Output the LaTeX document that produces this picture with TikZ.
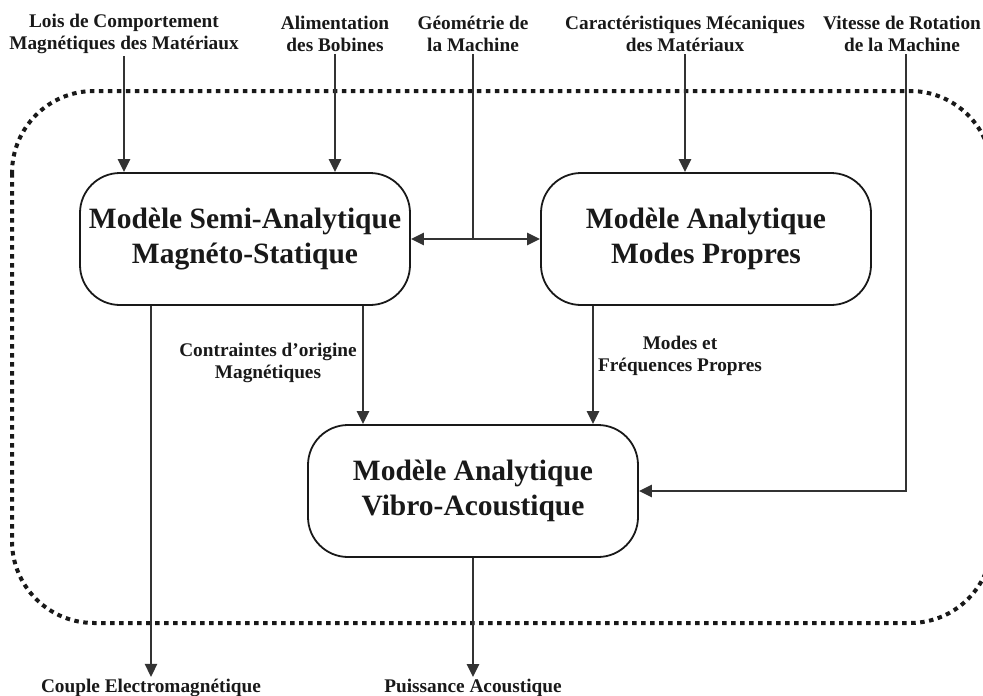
\documentclass[tikz,border=0pt]{standalone}
\usepackage{fontspec}
\setmainfont{Liberation Serif}
\usepackage{tikz}
\usetikzlibrary{arrows.meta}

\begin{document}
\begin{tikzpicture}[x=1pt, y=-1pt, font=\bfseries,
    modelBox/.style={draw=black!90, line width=1.8pt, rounded corners=40pt,
      minimum width=330pt, minimum height=132pt, align=center,
      font=\fontsize{29.5}{35}\selectfont\bfseries, text=black!90},
    smallLbl/.style={align=center, inner sep=2pt, text=black!90,
      font=\fontsize{19.3}{22}\selectfont\bfseries},
    flowArr/.style={draw=black!80, line width=2.5pt, -{Triangle[length=13pt, width=12pt]}},
    flowArrBoth/.style={draw=black!80, line width=2.5pt,
      {Triangle[length=13pt, width=12pt]}-{Triangle[length=13pt, width=12pt]}},
    flowLine/.style={draw=black!80, line width=2.5pt},
    dotBorder/.style={draw=black!90, line width=4pt, dash pattern=on 4.5pt off 4.5pt,
      rounded corners=82pt},
  ]
  \useasboundingbox (0,0) rectangle (983,696);

  % outer dotted frame (right side runs off the page)
  \draw[dotBorder] (12,91) rectangle (992,623);

  % the three models
  \node[modelBox] (msa) at (245,239) {Modèle Semi-Analytique\\Magnéto-Statique};
  \node[modelBox] (map) at (706,239) {Modèle Analytique\\Modes Propres};
  \node[modelBox] (mav) at (473,491) {Modèle Analytique\\Vibro-Acoustique};

  % inputs along the top
  \node[smallLbl] (lois) at (124,34) {Lois de Comportement\\Magnétiques des Matériaux};
  \node[smallLbl] (alim) at (335,34) {Alimentation\\des Bobines};
  \node[smallLbl] (geom) at (473,34) {Géométrie de\\la Machine};
  \node[smallLbl] (carac) at (685,34) {Caractéristiques Mécaniques\\des Matériaux};
  \node[smallLbl] (vit) at (902,34) {Vitesse de Rotation\\de la Machine};
  \coordinate (cVit) at (906,0);

  \draw[flowArr] (lois.south) -- (lois.south |- msa.north);
  \draw[flowArr] (alim.south) -- (alim.south |- msa.north);
  \draw[flowArr] (carac.south) -- (carac.south |- map.north);
  \draw[flowLine] (geom.south) -- (geom.south |- msa.east);
  \draw[flowArrBoth] (msa.east) -- (map.west);
  \draw[flowArr] (cVit |- vit.south) |- (mav.east);

  % links between models
  \coordinate (cMag) at (363,0);
  \coordinate (cMod) at (593,0);
  \draw[flowArr] (cMag |- msa.south) -- (cMag |- mav.north);
  \draw[flowArr] (cMod |- map.south) -- (cMod |- mav.north);
  \node[smallLbl] (contr) at (268,363) {Contraintes d’origine\\Magnétiques};
  \node[smallLbl] (modes) at (680,356) {Modes et\\Fréquences Propres};

  % outputs
  \node[smallLbl] (couple) at (151,688) {Couple Electromagnétique};
  \node[smallLbl] (puiss) at (473,688) {Puissance Acoustique};
  \draw[flowArr] (couple |- msa.south) -- (couple.north);
  \draw[flowArr] (mav.south) -- (puiss.north);
\end{tikzpicture}
\end{document}
